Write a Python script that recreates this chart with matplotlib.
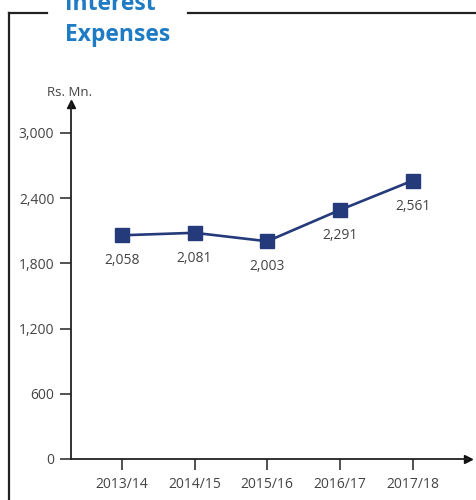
import matplotlib.pyplot as plt
from matplotlib.lines import Line2D

plt.rcParams['font.family'] = ['Open Sans', 'DejaVu Sans']

years = ['2013/14', '2014/15', '2015/16', '2016/17', '2017/18']
interest = [2058, 2081, 2003, 2291, 2561]
y_ticks = [0, 600, 1200, 1800, 2400, 3000]

line_col = '#253a7a'
text_col = '#444444'

fig = plt.figure(figsize=(4.76, 5.0), dpi=100)
ax = fig.add_axes([0.149, 0.082, 0.834, 0.71])

x = list(range(len(years)))
ax.plot(x, interest, color=line_col, lw=1.9, marker='s', ms=9.5, zorder=3)
for xi, v in zip(x, interest):
    ax.annotate(f'{v:,}', (xi, v), xytext=(0, -13), textcoords='offset points',
                ha='center', va='top', fontsize=10, color=text_col)

ax.set_xlim(-0.70, 4.76)
ax.set_ylim(0, 3266)
ax.set_xticks(x)
ax.set_xticklabels(years)
ax.set_yticks(y_ticks)
ax.set_yticklabels([f'{t:,}' for t in y_ticks])
ax.tick_params(axis='both', labelsize=10, labelcolor=text_col, colors='#333333',
               width=1.2)
ax.tick_params(axis='y', length=8, pad=4)
ax.tick_params(axis='x', length=8, pad=5)

for s in ['top', 'right']:
    ax.spines[s].set_visible(False)
for s in ['left', 'bottom']:
    ax.spines[s].set_linewidth(1.3)
    ax.spines[s].set_color('#222222')

# axis arrow heads
ax.plot(1, 0, '>', color='#111111', ms=6, transform=ax.transAxes, clip_on=False)
ax.plot(0, 1, '^', color='#111111', ms=6, transform=ax.transAxes, clip_on=False)

fig.text(0.099, 0.816, 'Rs. Mn.', fontsize=9.5, color=text_col, va='center')

# panel frame with the gap for the heading
fc = '#222222'
fig.add_artist(Line2D([0.019, 0.019], [0.0, 0.974], color=fc, lw=1.6))
fig.add_artist(Line2D([0.019, 0.099], [0.974, 0.974], color=fc, lw=1.6))
fig.add_artist(Line2D([0.395, 1.0], [0.974, 0.974], color=fc, lw=1.6))

fig.text(0.137, 0.918, 'Interest\nExpenses', fontsize=16.5, fontweight='bold',
         color='#1f7bc4', ha='left', va='baseline', linespacing=1.4)

fig.savefig('out.png', dpi=100)
